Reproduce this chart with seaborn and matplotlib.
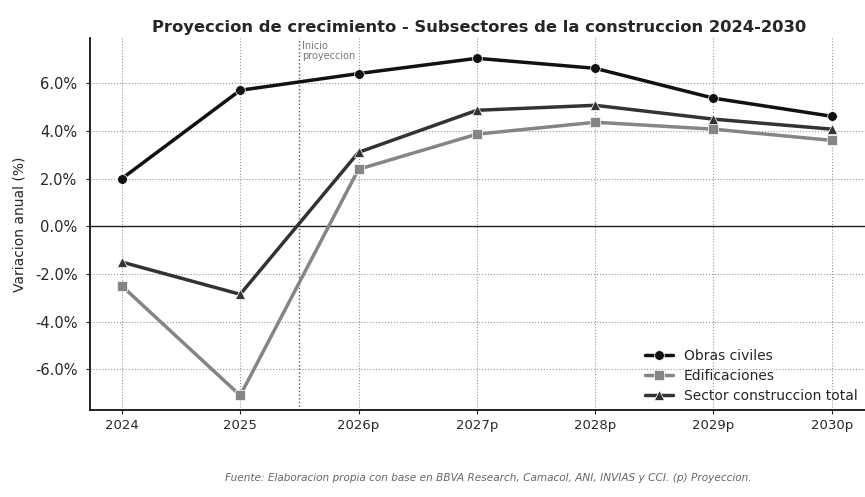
import numpy as np
import pandas as pd
import matplotlib
matplotlib.use("Agg")
import matplotlib.pyplot as plt
import matplotlib.ticker as mticker
import seaborn as sns

# data
years = ['2024', '2025', '2026p', '2027p', '2028p', '2029p', '2030p']
obras_civiles = [2.0, 5.7, 6.4, 7.04, 6.62, 5.37, 4.61]
edificaciones = [-2.5, -7.09, 2.39, 3.86, 4.36, 4.07, 3.6]
sector_total = [-1.5, -2.85, 3.1, 4.86, 5.07, 4.49, 4.07]
series_names = ['Obras civiles', 'Edificaciones', 'Sector construccion total']

df = pd.DataFrame({
    'Anio': years * 3,
    'x': list(range(len(years))) * 3,
    'valor': obras_civiles + edificaciones + sector_total,
    'serie': [s for s in series_names for _ in years],
})

sns.set_style("white")
plt.rcParams['font.family'] = ['DejaVu Sans']

fig = plt.figure(figsize=(8.65, 4.97), dpi=100)
ax = fig.add_axes([0.104, 0.175, 0.9, 0.749])

palette = {'Obras civiles': '#111111', 'Edificaciones': '#858585',
           'Sector construccion total': '#333333'}
markers = {'Obras civiles': 'o', 'Edificaciones': 's',
           'Sector construccion total': '^'}

sns.lineplot(data=df, x='x', y='valor', hue='serie', style='serie',
             palette=palette, markers=markers, dashes=False,
             linewidth=2.5, markersize=7, markeredgewidth=0.5, ax=ax)

# zero line and projection start
ax.axhline(0, color='#222222', linewidth=1.0, zorder=1)
ax.axvline(1.5, color='#555555', linestyle=':', linewidth=1.0, zorder=1)
ax.text(1.52, 7.75, 'Inicio\nproyeccion', fontsize=7, color='#777777',
        va='top', ha='left', linespacing=1.0)

ax.set_xticks(range(len(years)))
ax.set_xticklabels(years, fontsize=9.5)
ax.set_yticks([-6, -4, -2, 0, 2, 4, 6])
ax.yaxis.set_major_formatter(mticker.FuncFormatter(lambda v, p: f'{v:.1f}%'))
ax.tick_params(axis='y', labelsize=10.5, pad=6)
ax.tick_params(axis='both', length=3, color='#222222', bottom=True, left=True)
ax.set_xlim(-0.27, 6.31)
ax.set_ylim(-7.7, 7.9)
ax.grid(True, linestyle=':', color='#999999', linewidth=0.8)

ax.set_xlabel('')
ax.set_ylabel('Variacion anual (%)', fontsize=10, labelpad=6)
ax.set_title('Proyeccion de crecimiento - Subsectores de la construccion 2024-2030',
             fontsize=11.8, fontweight='bold', pad=4)

for side in ['top', 'right']:
    ax.spines[side].set_visible(False)
for side in ['left', 'bottom']:
    ax.spines[side].set_color('#111111')
    ax.spines[side].set_linewidth(1.3)

leg = ax.legend(loc='lower right', fontsize=10, frameon=False,
                handlelength=2.0, labelspacing=0.45, borderaxespad=0.1,
                bbox_to_anchor=(0.995, 0.0))

fig.text(0.565, 0.032, 'Fuente: Elaboracion propia con base en BBVA Research, Camacol, ANI, INVIAS y CCI. (p) Proyeccion.',
         ha='center', fontsize=7.6, style='italic', color='#666666')

fig.savefig('out.png', dpi=100)
